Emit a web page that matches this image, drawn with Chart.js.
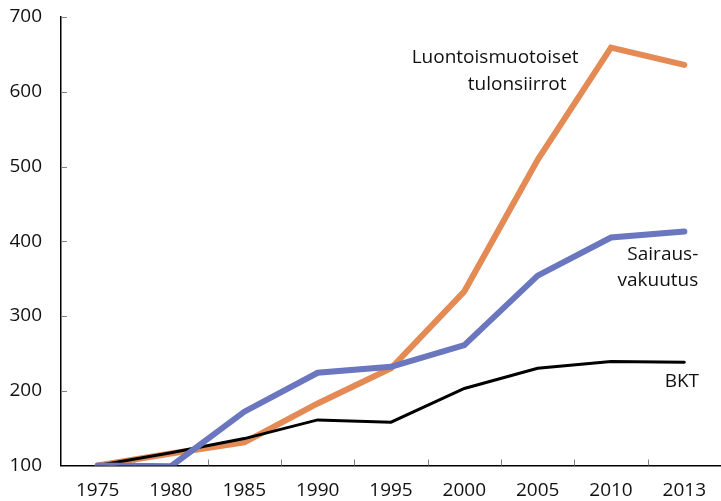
<!DOCTYPE html>
<html>
<head>
<meta charset="utf-8">
<script src="https://cdn.jsdelivr.net/npm/chart.js@4/dist/chart.umd.min.js"></script>
<style>
  html, body { margin: 0; padding: 0; background: #fff; }
  #wrap { width: 721px; height: 501px; }
</style>
</head>
<body>
<div id="wrap"><canvas id="myChart" width="721" height="501"></canvas></div>
<script>
const years = ["1975", "1980", "1985", "1990", "1995", "2000", "2005", "2010", "2013"];
const luontoismuotoiset = [100, 116, 131, 183, 230, 333, 509, 659, 636];
const sairausvakuutus = [100, 99, 172, 224, 232, 261, 354, 405, 413];
const bkt = [100, 117, 136, 161, 158, 203, 230, 239, 238];

// [text, x (category index), y (value), align]
const labels = [
  ["Luontoismuotoiset", 5.42, 646, "center"],
  ["tulonsiirrot", 5.72, 610, "center"],
  ["Sairaus-", 8.19, 382, "right"],
  ["vakuutus", 8.19, 348, "right"],
  ["BKT", 8.2, 212, "right"],
];

const FONT = "'Open Sans', 'DejaVu Sans', sans-serif";
const FONT_SIZE = 19;

const innerTicks = {
  id: "innerTicks",
  beforeDatasetsDraw: (chart) => {
    const { ctx, scales } = chart;
    const x = scales.x, y = scales.y;
    ctx.save();
    ctx.strokeStyle = "#808080";
    ctx.lineWidth = 1;
    y.ticks.forEach((t) => {
      const py = Math.round(y.getPixelForValue(t.value)) + 0.5;
      ctx.beginPath();
      ctx.moveTo(x.left, py);
      ctx.lineTo(x.left + 6, py);
      ctx.stroke();
    });
    for (let i = 1; i < years.length; i++) {
      const px = Math.round(x.getPixelForValue(i - 0.5)) + 0.5;
      ctx.beginPath();
      ctx.moveTo(px, y.bottom);
      ctx.lineTo(px, y.bottom - 6);
      ctx.stroke();
    }
    ctx.restore();
  },
};

const textLabels = {
  id: "textLabels",
  afterDraw: (chart) => {
    const { ctx, scales } = chart;
    ctx.save();
    ctx.fillStyle = "#111";
    ctx.font = FONT_SIZE + "px " + FONT;
    ctx.textBaseline = "middle";
    labels.forEach(([text, xi, yv, align]) => {
      ctx.textAlign = align;
      ctx.fillText(text, scales.x.getPixelForValue(xi), scales.y.getPixelForValue(yv));
    });
    ctx.restore();
  },
};

new Chart(document.getElementById("myChart"), {
  type: "line",
  data: {
    labels: years,
    datasets: [
      {
        label: "Sairausvakuutus",
        data: sairausvakuutus,
        borderColor: "rgb(106, 118, 190)",
        borderWidth: 6,
      },
      {
        label: "BKT",
        data: bkt,
        borderColor: "#000",
        borderWidth: 3,
      },
      {
        label: "Luontoismuotoiset tulonsiirrot",
        data: luontoismuotoiset,
        borderColor: "rgb(228, 138, 84)",
        borderWidth: 6,
      },
    ],
  },
  options: {
    responsive: false,
    animation: false,
    layout: { padding: { top: 17, right: 0, left: 0, bottom: 0 } },
    elements: {
      point: { radius: 0 },
      line: { tension: 0, borderCapStyle: "round" },
    },
    plugins: { legend: { display: false }, tooltip: { enabled: false } },
    scales: {
      x: {
        offset: true,
        grid: { display: false, drawTicks: false },
        border: { color: "#000", width: 1.5 },
        ticks: {
          color: "#111",
          font: { family: FONT, size: FONT_SIZE },
          padding: 14,
          maxRotation: 0,
          autoSkip: false,
        },
        afterFit: (s) => {
          s.height = 35.5;
          s.paddingLeft = 0;
          s.paddingRight = 0;
        },
      },
      y: {
        min: 100,
        max: 700,
        grid: { display: false, drawTicks: false },
        border: { color: "#000", width: 1.5 },
        ticks: {
          stepSize: 100,
          color: "#111",
          font: { family: FONT, size: FONT_SIZE },
          padding: 19,
        },
        afterFit: (s) => {
          s.width = 61;
          s.paddingTop = 0;
          s.paddingBottom = 0;
        },
      },
    },
  },
  plugins: [innerTicks, textLabels],
});
</script>
</body>
</html>
